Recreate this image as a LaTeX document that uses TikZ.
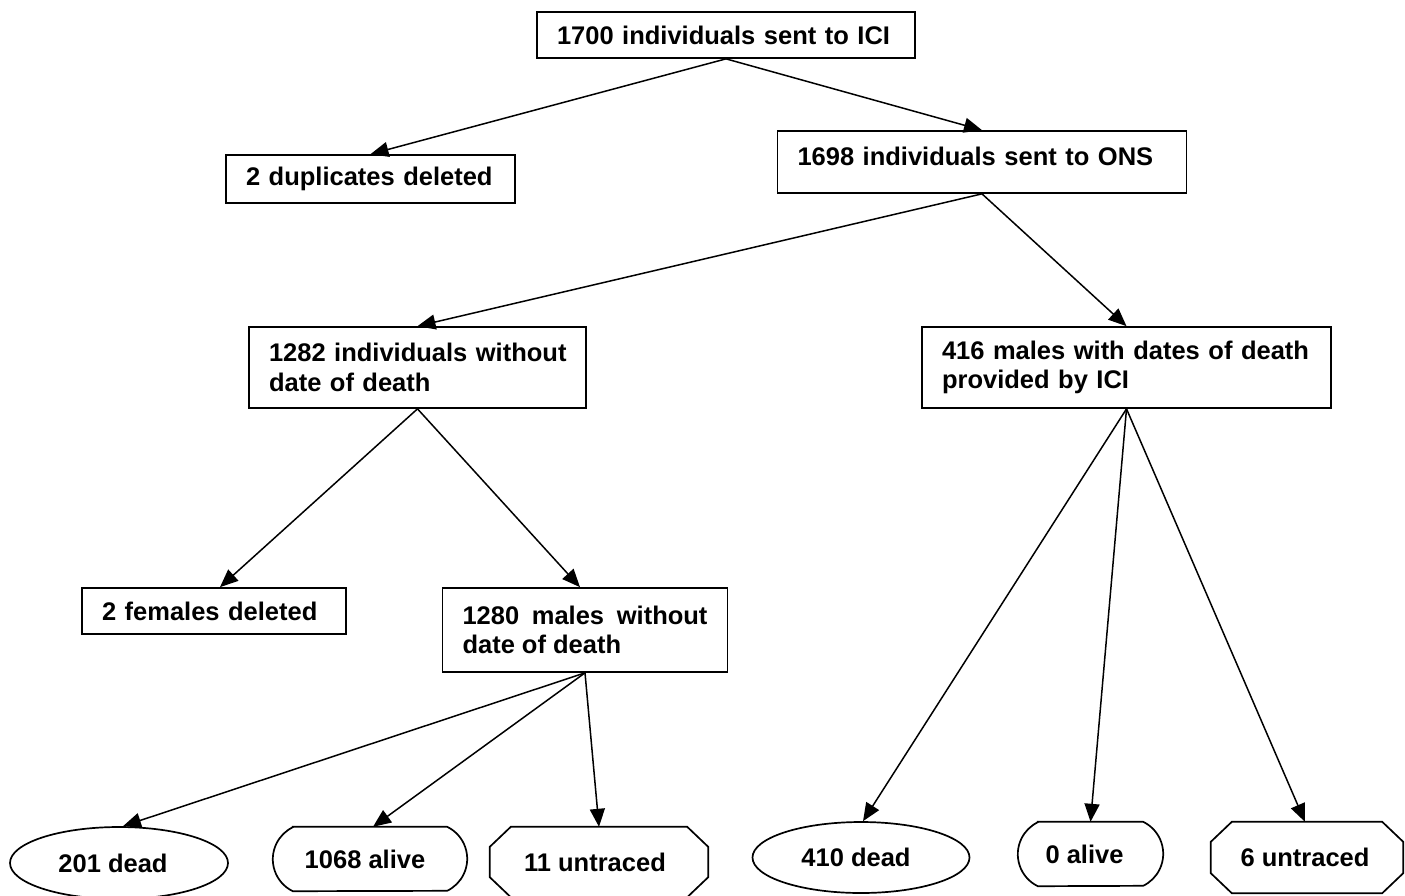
\documentclass[tikz,border=0pt]{standalone}
\usepackage{fontspec}
\setmainfont{Liberation Sans}
\usetikzlibrary{arrows.meta,shapes.geometric,calc}
\hyphenpenalty=10000
\exhyphenpenalty=10000
\begin{document}
\begin{tikzpicture}[x=1pt,y=-1pt,
  txt/.style={font=\fontsize{25.5}{29.5}\selectfont\bfseries},
  box/.style={txt, draw, line width=1.7pt, rectangle, inner xsep=20pt, inner ysep=0pt, align=left},
  oval/.style={txt, draw, line width=1.7pt, ellipse, inner sep=0pt},
  plainbox/.style={txt, rectangle, inner sep=0pt},
  outline/.style={line width=1.7pt, line join=miter},
  arr/.style={line width=1.5pt, -{Triangle[length=18pt,width=15pt]}},
]
\useasboundingbox (0,0) rectangle (1405,895);

% boxes
\node[box, text width=338pt, minimum height=46pt] (ici) at (726,35) {1700 individuals sent to ICI};
\node[box, text width=249pt, minimum height=48pt] (dup) at (370.5,179) {2 duplicates deleted};
\node[box, text width=369pt, minimum height=62pt] (ons) at (982,162) {\raisebox{12pt}{1698 individuals sent to ONS}};
\node[box, text width=297pt, minimum height=81pt] (w1282) at (417.5,367.5) {\parbox{310pt}{\raggedright 1282 individuals without date of death}};
\node[box, text width=369pt, minimum height=81pt] (m416) at (1126.5,367.5) {416 males with dates of death provided by ICI};
\node[box, text width=224pt, minimum height=46pt] (fem) at (214,611) {2 females deleted};
\node[box, text width=245pt, minimum height=84pt, align=justify] (m1280) at (585,630) {1280 males without date of death};

% bottom shapes
\node[oval, minimum width=218pt, minimum height=72pt] (d201) at (119,863) {\hspace*{-12pt}201 dead};
\node[plainbox, minimum width=194pt, minimum height=64pt] (a1068) at (370,859) {\hspace*{-10pt}1068 alive};
\node[plainbox, minimum width=218pt, minimum height=70pt] (u11) at (599,862) {\hspace*{-8pt}11 untraced};
\node[oval, minimum width=217pt, minimum height=71pt] (d410) at (861,857.5) {\hspace*{-10pt}410 dead};
\node[plainbox, minimum width=145pt, minimum height=64pt] (a0) at (1090.5,854) {\hspace*{-12pt}0 alive};
\node[plainbox, minimum width=192pt, minimum height=71pt] (u6) at (1307,857.5) {\hspace*{-4pt}6 untraced};

% octagons
\foreach \n in {u11,u6}{
  \draw[outline] ($(\n.north west)+(21,0)$) -- ($(\n.north east)+(-21,0)$)
    -- ($(\n.north east)+(0,20)$) -- ($(\n.south east)+(0,-20)$)
    -- ($(\n.south east)+(-21,0)$) -- ($(\n.south west)+(21,0)$)
    -- ($(\n.south west)+(0,-20)$) -- ($(\n.north west)+(0,20)$) -- cycle;
}
% pills (sides are arcs: sagitta 20, radius 35.6, half angle 64)
\foreach \n in {a1068,a0}{
  \draw[outline] ($(\n.north west)+(20,0)$) -- ($(\n.north east)+(-20,0)$)
    arc[start angle=-64, end angle=64, radius=35.6]
    -- ($(\n.south west)+(20,0)$)
    arc[start angle=116, end angle=244, radius=35.6] -- cycle;
}

% connectors
\draw[arr] (ici.south) -- (dup.north);
\draw[arr] (ici.south) -- (ons.north);
\draw[arr] (ons.south) -- (w1282.north);
\draw[arr] (ons.south) -- (m416.north);
\draw[arr] (w1282.south) -- ([xshift=6pt]fem.north);
\draw[arr] (w1282.south) -- ([xshift=-5pt]m1280.north);
\draw[arr] (m1280.south) -- ([xshift=4pt]d201.north);
\draw[arr] (m1280.south) -- ([xshift=3pt]a1068.north);
\draw[arr] (m1280.south) -- (u11.north);
\draw[arr] (m416.south) -- ([xshift=2pt]d410.north);
\draw[arr] (m416.south) -- (a0.north);
\draw[arr] (m416.south) -- ([xshift=-2pt]u6.north);
\end{tikzpicture}
\end{document}
